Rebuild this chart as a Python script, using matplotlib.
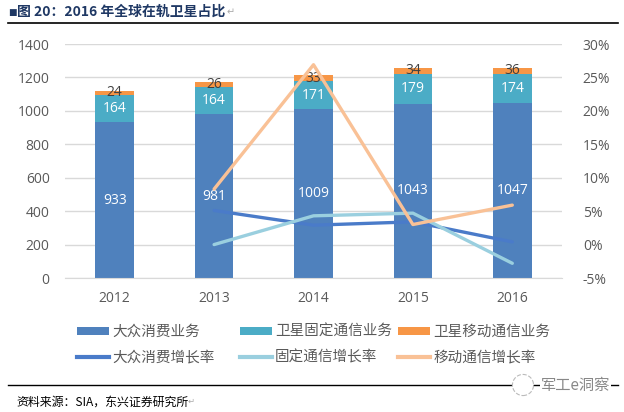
import matplotlib
matplotlib.use("Agg")
import matplotlib.pyplot as plt
import numpy as np
from matplotlib.patches import Patch
from matplotlib.lines import Line2D
from matplotlib.ticker import FuncFormatter

plt.rcParams["font.family"] = ["Noto Sans CJK SC", "DejaVu Sans"]

# data
years = ["2012", "2013", "2014", "2015", "2016"]
consumer = [933, 981, 1009, 1043, 1047]
fixed_sat = [164, 164, 171, 179, 174]
mobile_sat = [24, 26, 33, 34, 36]

growth_years = ["2013", "2014", "2015", "2016"]
consumer_growth = [5.1, 2.9, 3.4, 0.4]
fixed_growth = [0.0, 4.3, 4.7, -2.8]
mobile_growth = [8.3, 26.9, 3.0, 5.9]

bar_names = ["大众消费业务", "卫星固定通信业务", "卫星移动通信业务"]
line_names = ["大众消费增长率", "固定通信增长率", "移动通信增长率"]

c_consumer = "#4F81BD"
c_fixed = "#4BACC6"
c_mobile = "#F79646"
l_consumer = "#4A7BC9"
l_fixed = "#9ACFDF"
l_mobile = "#F9C196"
tick_color = "#595959"

fig = plt.figure(figsize=(6.24, 4.12), dpi=100)
fig.patch.set_facecolor("white")
ax = fig.add_axes([65 / 624, 1 - 278 / 412, 497 / 624, 234 / 412])

x = np.arange(len(years))
gx = np.array([years.index(y) for y in growth_years])
w = 0.39

b1 = ax.bar(x, consumer, w, color=c_consumer, zorder=2)
b2 = ax.bar(x, fixed_sat, w, bottom=consumer, color=c_fixed, zorder=2)
bottom3 = np.array(consumer) + np.array(fixed_sat)
b3 = ax.bar(x, mobile_sat, w, bottom=bottom3, color=c_mobile, zorder=2)

ax.bar_label(b1, label_type="center", color="white", fontsize=10, family="Open Sans")
ax.bar_label(b2, label_type="center", color="white", fontsize=10, family="Open Sans")
ax.bar_label(b3, label_type="center", color="#404040", fontsize=10, family="Open Sans")

ax.set_xlim(-0.5, 4.5)
ax.set_ylim(0, 1400)
ax.set_yticks(range(0, 1401, 200))
ax.set_xticks(x)
ax.set_xticklabels(years)
ax.grid(axis="y", color="#D9D9D9", linewidth=1, zorder=0)
ax.set_axisbelow(True)
for s in ["top", "right", "left"]:
    ax.spines[s].set_visible(False)
ax.spines["bottom"].set_color("#D9D9D9")
ax.tick_params(axis="both", length=0, colors=tick_color, labelsize=10)
ax.tick_params(axis="y", pad=11)
ax.tick_params(axis="x", pad=9)
for t in ax.get_xticklabels() + ax.get_yticklabels():
    t.set_family("Open Sans")

ax2 = ax.twinx()
ax2.plot(gx, consumer_growth, color=l_consumer, lw=2.4, solid_capstyle="round")
ax2.plot(gx, fixed_growth, color=l_fixed, lw=2.4, solid_capstyle="round")
ax2.plot(gx, mobile_growth, color=l_mobile, lw=2.4, solid_capstyle="round")
ax2.set_ylim(-5, 30)
ax2.set_yticks(range(-5, 31, 5))
ax2.yaxis.set_major_formatter(FuncFormatter(lambda v, p: f"{int(v)}%"))
for s in ["top", "right", "left", "bottom"]:
    ax2.spines[s].set_visible(False)
ax2.tick_params(axis="y", length=0, colors=tick_color, labelsize=10, pad=15)
for t in ax2.get_yticklabels():
    t.set_family("Open Sans")

# legend: one small legend per column
bar_colors = [c_consumer, c_fixed, c_mobile]
line_colors = [l_consumer, l_fixed, l_mobile]
col_x = [77, 240, 398]
for i in range(3):
    hs = [Patch(facecolor=bar_colors[i], edgecolor="none"),
          Line2D([0], [0], color=line_colors[i], lw=3)]
    fig.legend(hs, [bar_names[i], line_names[i]],
               loc="upper left", bbox_to_anchor=(col_x[i] / 624, 1 - 325 / 412),
               frameon=False, fontsize=10.5, handlelength=2.2, handleheight=0.45,
               handletextpad=0.2, borderpad=0, borderaxespad=0, labelspacing=0.8,
               labelcolor="#595959")

# title and rules
fig.text(8 / 624, 1 - 12 / 412, "■", fontsize=6.5, color="#1F3864", va="center",
         family="DejaVu Sans")
fig.text(17 / 624, 1 - 12 / 412, "图 20：2016 年全球在轨卫星占比", fontsize=10,
         fontweight="bold", color="#1F3864", va="center")
fig.text(227 / 624, 1 - 12 / 412, "↵", fontsize=7, color="#AAAAAA", va="center",
         family="DejaVu Sans")
fig.add_artist(Line2D([8 / 624, 618 / 624], [1 - 23 / 412] * 2, color="black",
                      lw=1.2, transform=fig.transFigure))
fig.add_artist(Line2D([8 / 624, 618 / 624], [1 - 385 / 412] * 2, color="black",
                      lw=1.0, transform=fig.transFigure))

fig.text(16 / 624, 1 - 402 / 412, "资料来源：SIA，东兴证券研究所", fontsize=8.6,
         color="black", va="center", style="italic")
fig.text(188 / 624, 1 - 401 / 412, "↵", fontsize=6, color="#AAAAAA", va="center",
         family="DejaVu Sans")

# watermark
fig.text(523 / 624, 1 - 385 / 412, " ", fontsize=8, va="center", ha="center",
         bbox=dict(boxstyle="circle,pad=0.5", fc="white", ec="#BBBBBB", ls="--", lw=0.8))
fig.text(541 / 624, 1 - 385 / 412, "军工e洞察", fontsize=11, color="#888888",
         va="center", ha="left",
         bbox=dict(boxstyle="square,pad=0.05", fc="white", ec="none"))

fig.savefig("out.png", dpi=100, facecolor="white")
